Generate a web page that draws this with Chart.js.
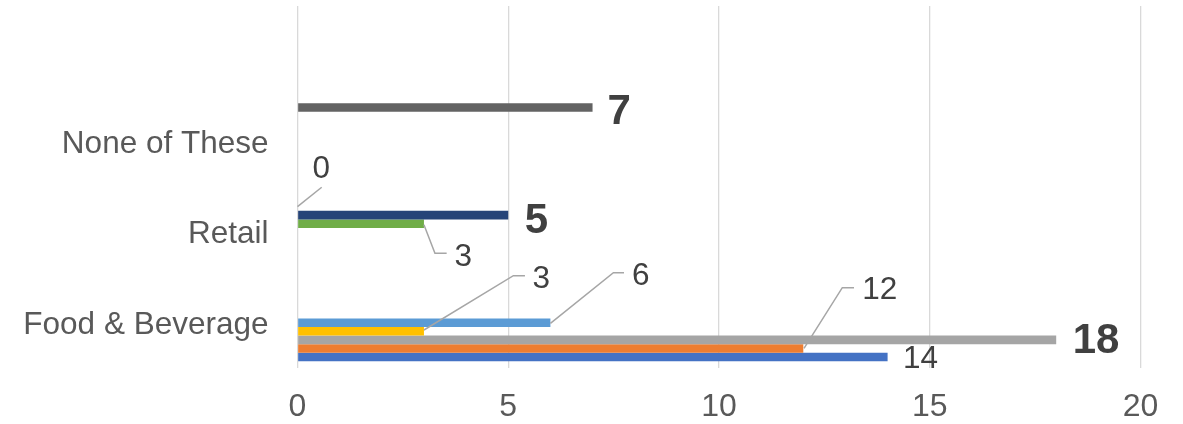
<!DOCTYPE html>
<html>
<head>
<meta charset="utf-8">
<script src="https://cdn.jsdelivr.net/npm/chart.js@4/dist/chart.umd.min.js"></script>
<style>
  html, body { margin: 0; padding: 0; background: #ffffff; }
  canvas { display: block; }
</style>
</head>
<body>
<canvas id="chart" width="1183" height="424"></canvas>
<script>
// Categories, top to bottom (the first row is an empty band)
const categories = ['', 'None of These', 'Retail', 'Food & Beverage'];
const xTickValues = [0, 5, 10, 15, 20];

// One value per category for each series (null = no bar in that row)
const series1 = [null, null, null, 14];
const series2 = [null, null, null, 12];
const series3 = [null, null, null, 18];
const series4 = [null, null, null, 3];
const series5 = [null, null, null, 6];
const series6 = [null, null, 3, null];
const series7 = [null, null, 5, null];
const series8 = [null, null, 0, null];
const series9 = [null, 7, null, null];

const FONT = '"Liberation Sans", Arial, sans-serif';

// Series listed from the top slot of each group down to the bottom slot
const seriesDefs = [
  { name: 'Series 9', data: series9, color: '#636363' },
  { name: 'Series 8', data: series8, color: '#9E480E' },
  { name: 'Series 7', data: series7, color: '#264478' },
  { name: 'Series 6', data: series6, color: '#70AD47' },
  { name: 'Series 5', data: series5, color: '#5B9BD5' },
  { name: 'Series 4', data: series4, color: '#FFC000' },
  { name: 'Series 3', data: series3, color: '#A5A5A5' },
  { name: 'Series 2', data: series2, color: '#ED7D31' },
  { name: 'Series 1', data: series1, color: '#4472C4' }
];

// Value label placement relative to the bar end (x) and bar centre (y).
// Leader labels carry a polyline from the bar end to the label.
const labelPlacement = {
  'Series 9': { bold: true, dx: 26.6, dy: 16.5 },
  'Series 8': { dx: 23.8, dy: -28.8, leader: [[0, 0], [24.2, -19.3]] },
  'Series 7': { bold: true, dx: 28.2, dy: 17.4 },
  'Series 6': { dx: 39.3, dy: 42.3, leader: [[0, 1], [11, 29.6], [22.7, 29.6]] },
  'Series 5': { dx: 90.4, dy: -37.4, leader: [[0, 0.6], [63, -50], [73.6, -50]] },
  'Series 4': { dx: 117.4, dy: -43.3, leader: [[0, -1.3], [89.4, -55.6], [101, -55.6]] },
  'Series 3': { bold: true, dx: 39.8, dy: 13.5 },
  'Series 2': { dx: 76.4, dy: -49.1, leader: [[0.7, 0], [39, -60.7], [50.7, -60.7]] },
  'Series 1': { dx: 33, dy: 11.1 }
};

const valueLabels = {
  id: 'valueLabels',
  afterDatasetsDraw(chart) {
    const ctx = chart.ctx;
    ctx.save();
    chart.data.datasets.forEach((ds, di) => {
      const place = labelPlacement[ds.label];
      if (!place) return;
      const meta = chart.getDatasetMeta(di);
      ds.data.forEach((v, i) => {
        if (v === null || v === undefined) return;
        const el = meta.data[i];
        const xe = el.x, yc = el.y;
        if (place.leader) {
          ctx.beginPath();
          place.leader.forEach(([px, py], k) => {
            if (k === 0) ctx.moveTo(xe + px, yc + py);
            else ctx.lineTo(xe + px, yc + py);
          });
          ctx.strokeStyle = '#A6A6A6';
          ctx.lineWidth = 1.5;
          ctx.stroke();
        }
        ctx.fillStyle = '#404040';
        ctx.textAlign = 'center';
        ctx.textBaseline = 'alphabetic';
        ctx.font = place.bold ? 'bold 42px ' + FONT : '31.5px ' + FONT;
        ctx.fillText(String(v), xe + place.dx, yc + place.dy);
      });
    });
    ctx.restore();
  }
};

const whiteBackground = {
  id: 'whiteBackground',
  beforeDraw(chart) {
    const ctx = chart.ctx;
    ctx.save();
    ctx.fillStyle = '#ffffff';
    ctx.fillRect(0, 0, chart.width, chart.height);
    ctx.restore();
  }
};

new Chart(document.getElementById('chart'), {
  type: 'bar',
  data: {
    labels: categories,
    datasets: seriesDefs.map(s => ({
      label: s.name,
      data: s.data,
      backgroundColor: s.color,
      borderWidth: 0,
      categoryPercentage: 0.851,
      barPercentage: 1.0
    }))
  },
  options: {
    indexAxis: 'y',
    responsive: false,
    animation: false,
    layout: { padding: { top: 6, right: 42.5, left: 0, bottom: 0 } },
    plugins: {
      legend: { display: false },
      tooltip: { enabled: false }
    },
    scales: {
      x: {
        min: 0,
        max: 20,
        afterBuildTicks(scale) {
          scale.ticks = xTickValues.map(v => ({ value: v }));
        },
        afterFit(scale) {
          scale.height = 56;
          scale.paddingLeft = 0;
          scale.paddingRight = 0;
        },
        grid: { color: '#D9D9D9', lineWidth: 1.3, drawTicks: false },
        border: { display: false },
        ticks: {
          color: '#595959',
          font: { family: FONT, size: 32 },
          padding: 20
        }
      },
      y: {
        afterFit(scale) {
          scale.width = 297.5;
          scale.paddingTop = 0;
          scale.paddingBottom = 0;
        },
        grid: { display: false, drawTicks: false },
        border: { display: false },
        ticks: {
          color: '#595959',
          font: { family: FONT, size: 31.5 },
          padding: 29,
          labelOffset: 2.5
        }
      }
    }
  },
  plugins: [whiteBackground, valueLabels]
});
</script>
</body>
</html>
